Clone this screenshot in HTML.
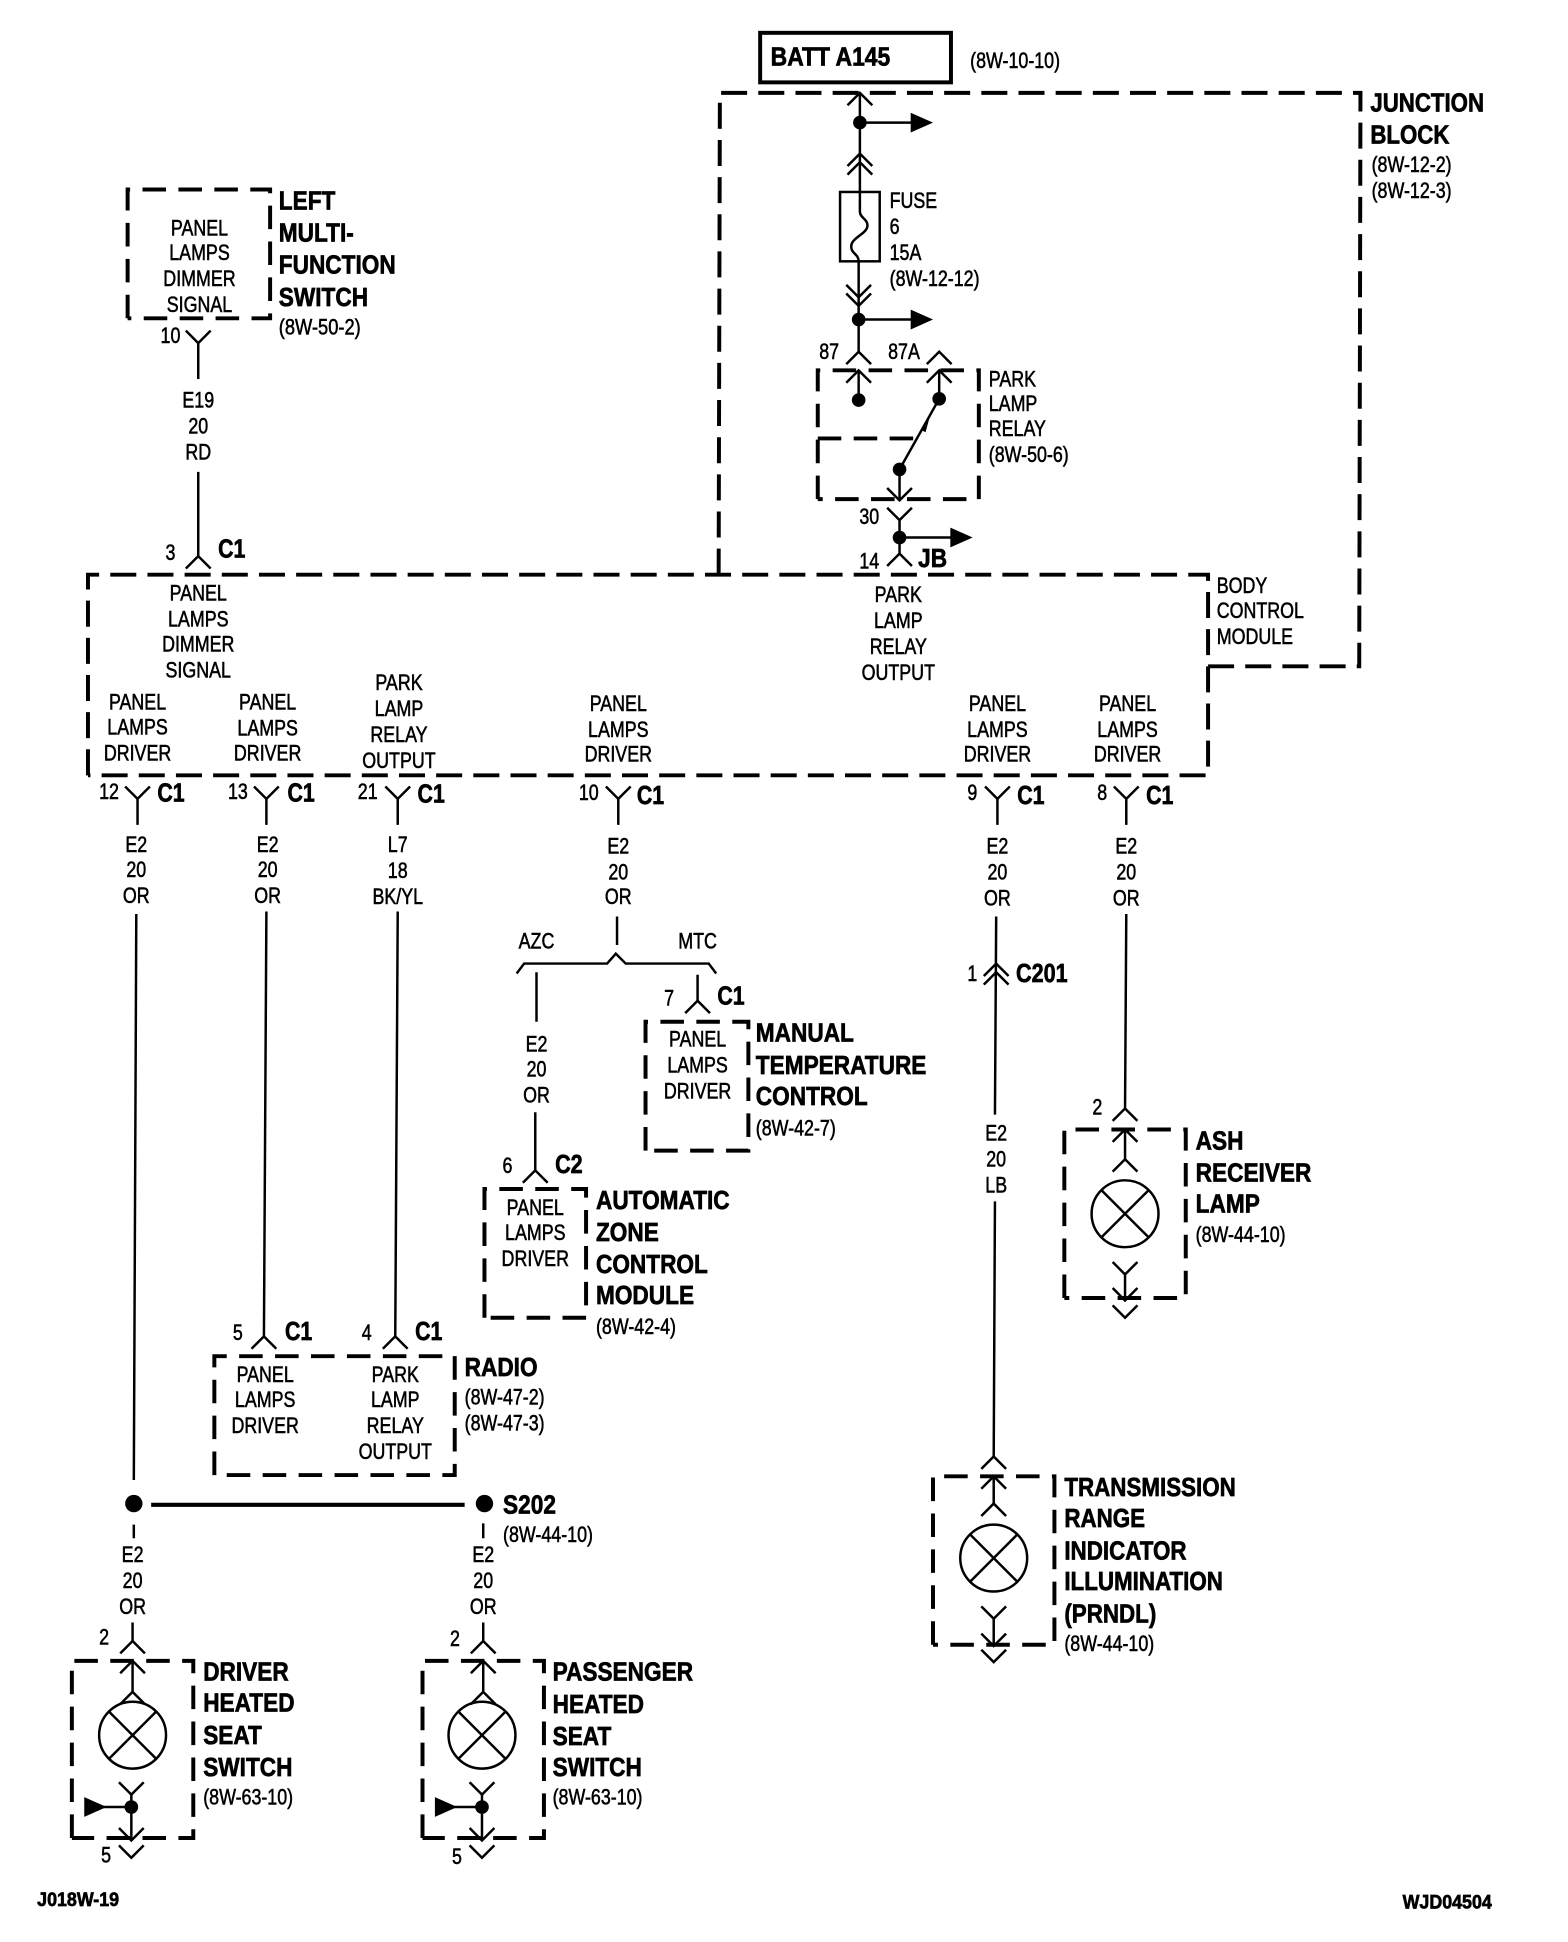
<!DOCTYPE html>
<html><head><meta charset="utf-8"><title>Panel Lamps Wiring Diagram</title>
<style>
html,body{margin:0;padding:0;background:#fff}
svg{display:block}
text{fill:#000;font-family:"Liberation Sans",sans-serif}
.r text{font-size:18px;stroke:#000;stroke-width:.45}
.b text{font-size:21px;font-weight:bold;stroke:#000;stroke-width:.55}
.m text{text-anchor:middle}
.w{fill:none;stroke:#000;stroke-width:2}
.d{fill:none;stroke:#000;stroke-width:3.2;stroke-dasharray:21 9}
.s{fill:none;stroke:#000;stroke-width:3.2;stroke-dasharray:19 10}
</style></head><body>
<svg xmlns="http://www.w3.org/2000/svg" width="1568" height="1942" viewBox="0 0 1265.5 1568" preserveAspectRatio="none">
<defs>
<path id="up" d="M-10 10L0 0L10 10" fill="none" stroke="#000" stroke-width="2"/>
<path id="dn" d="M-10 -10L0 0L10 -10" fill="none" stroke="#000" stroke-width="2"/>
<g id="lamp"><circle r="27" fill="none" stroke="#000" stroke-width="2"/><path d="M-19 -19L19 19M19 -19L-19 19" stroke="#000" stroke-width="2"/></g>
</defs>

<!-- boxes -->
<rect x="613.5" y="26.5" width="154" height="40" fill="none" stroke="#000" stroke-width="3.2"/>
<path class="d" d="M580 464L581 75L1098 75L1097 538L975 538"/>
<path class="d" d="M71 626L71 464L975 464L975 626L71 626"/>
<path class="s" d="M103 257L103 153L218 153L218 257L103 257"/>
<path class="s" d="M660 403L660 299L790 299L790 403L660 403"/>
<path class="s" d="M660 354L737 354"/>
<path class="s" d="M521 929L521 825L604 825L604 929L521 929"/>
<path class="s" d="M391 1064L391 960L473 960L473 1064L391 1064"/>
<path class="s" d="M173 1191L173 1095L367 1095L367 1191L173 1191"/>
<path class="s" d="M859 1048L859 912L957 912L957 1048L859 1048"/>
<path class="s" d="M753 1328L753 1192L851 1192L851 1328L753 1328"/>
<path class="s" d="M58 1484L58 1341L156 1341L156 1484L58 1484"/>
<path class="s" d="M341 1484L341 1341L439 1341L439 1484L341 1484"/>

<!-- junction block internals -->
<path class="w" d="M694 75V155M694 99H737M693 211V258M693 258H737M693 258V284M693 299V323M758 299V322M758 322L726 379M726 379V404M726 420V447M726 434H769"/>
<path d="M694 155V171C694 176 701 177 700 183C699 189 687 192 687 199C687 205 693 205 693 211" fill="none" stroke="#000" stroke-width="2"/>
<rect x="678" y="155" width="32" height="56" fill="none" stroke="#000" stroke-width="2"/>
<use href="#up" x="694" y="75"/><use href="#up" x="694" y="124"/><use href="#up" x="694" y="131"/>
<use href="#dn" x="693" y="240"/><use href="#dn" x="693" y="247"/>
<use href="#up" x="693" y="284"/><use href="#up" x="693" y="299"/>
<use href="#up" x="758" y="284"/><use href="#up" x="758" y="299"/>
<use href="#dn" x="726" y="404"/><use href="#dn" x="726" y="420"/><use href="#up" x="726" y="447"/>
<circle cx="694" cy="99" r="5.5"/><circle cx="693" cy="258" r="5.5"/><circle cx="693" cy="323" r="5.5"/><circle cx="758" cy="322" r="5.5"/><circle cx="726" cy="379" r="5.5"/><circle cx="726" cy="434" r="5.5"/>
<path d="M735 91L753 99L735 107ZM735 250L753 258L735 266ZM767 426L785 434L767 442ZM750 338L743 347L747 349Z"/>

<!-- left wires -->
<path class="w" d="M160 276V306M160 381V449"/>
<use href="#dn" x="160" y="277"/><use href="#up" x="160" y="449"/>

<!-- BCM output connectors -->
<path class="w" d="M111 645V666M215 645V666M321 645V666M499 645V666M805 645V666M909 645V666"/>
<use href="#dn" x="111" y="645"/><use href="#dn" x="215" y="645"/><use href="#dn" x="321" y="645"/><use href="#dn" x="499" y="645"/><use href="#dn" x="805" y="645"/><use href="#dn" x="909" y="645"/>

<path class="w" d="M110 738L108 1195M215 736L213 1080M321 736L319 1080M498 740V763M433 785V825M432 898V945M563 787V808M804 740L803 900M803 970L802 1176M909 738L908 895"/>
<path class="w" d="M417 786L423 778H490L497 770L505 778H572L578 786"/>
<use href="#up" x="432" y="945"/><use href="#up" x="563" y="808"/>
<use href="#up" x="213" y="1079"/><use href="#up" x="319" y="1079"/>
<use href="#up" x="804" y="778"/><use href="#up" x="804" y="785"/>

<!-- ash receiver lamp -->
<path class="w" d="M908 912V936M908 1028V1050"/>
<use href="#up" x="908" y="895"/><use href="#up" x="908" y="912"/><use href="#up" x="908" y="936"/>
<use href="#lamp" x="908" y="980"/>
<use href="#dn" x="908" y="1029"/><use href="#dn" x="908" y="1050"/><use href="#dn" x="908" y="1064"/>

<!-- transmission lamp -->
<path class="w" d="M802 1192V1214M802 1306V1328"/>
<use href="#up" x="802" y="1176"/><use href="#up" x="802" y="1192"/><use href="#up" x="802" y="1214"/>
<use href="#lamp" x="802" y="1258"/>
<use href="#dn" x="802" y="1307"/><use href="#dn" x="802" y="1329"/><use href="#dn" x="802" y="1342"/>

<!-- splice -->
<circle cx="108" cy="1214" r="7"/><circle cx="391" cy="1214" r="7"/>
<path d="M122 1215H375" stroke="#000" stroke-width="3.4"/>
<path class="w" d="M108 1231V1242M390 1230V1242M107 1310V1325M107 1341V1366M390 1310V1325M390 1341V1366"/>

<!-- driver switch -->
<use href="#up" x="107" y="1325"/><use href="#up" x="107" y="1341"/><use href="#up" x="107" y="1366"/>
<use href="#lamp" x="107" y="1401"/>
<path class="w" d="M106 1448V1486M106 1459H80"/>
<use href="#dn" x="106" y="1449"/><use href="#dn" x="106" y="1486"/><use href="#dn" x="106" y="1500"/>
<circle cx="106" cy="1459" r="5.5"/><path d="M68 1451L86 1459L68 1467Z"/>

<!-- passenger switch -->
<use href="#up" x="390" y="1325"/><use href="#up" x="390" y="1341"/><use href="#up" x="390" y="1366"/>
<use href="#lamp" x="389" y="1401"/>
<path class="w" d="M389 1448V1486M389 1459H363"/>
<use href="#dn" x="389" y="1449"/><use href="#dn" x="389" y="1486"/><use href="#dn" x="389" y="1500"/>
<circle cx="389" cy="1459" r="5.5"/><path d="M351 1451L369 1459L351 1467Z"/>

<!-- bold labels -->
<g class="b" transform="translate(622,0) scale(.88,1)"><text y="53">BATT A145</text></g>
<g class="b" transform="translate(1106,0) scale(.855,1)"><text y="90">JUNCTION</text><text y="116">BLOCK</text></g>
<g class="b" transform="translate(225,0) scale(.87,1)"><text y="169">LEFT</text><text y="195">MULTI-</text><text y="221">FUNCTION</text><text y="247">SWITCH</text></g>
<g class="b" transform="translate(610,0) scale(.87,1)"><text y="841">MANUAL</text><text y="867">TEMPERATURE</text><text y="892">CONTROL</text></g>
<g class="b" transform="translate(481,0) scale(.87,1)"><text y="976">AUTOMATIC</text><text y="1002">ZONE</text><text y="1028">CONTROL</text><text y="1053">MODULE</text></g>
<g class="b" transform="translate(375,0) scale(.87,1)"><text y="1111">RADIO</text></g>
<g class="b" transform="translate(406,0) scale(.87,1)"><text y="1222">S202</text></g>
<g class="b" transform="translate(965,0) scale(.87,1)"><text y="928">ASH</text><text y="954">RECEIVER</text><text y="979">LAMP</text></g>
<g class="b" transform="translate(859,0) scale(.86,1)"><text y="1208">TRANSMISSION</text><text y="1233">RANGE</text><text y="1259">INDICATOR</text><text y="1284">ILLUMINATION</text><text y="1310">(PRNDL)</text></g>
<g class="b" transform="translate(164,0) scale(.87,1)"><text y="1357">DRIVER</text><text y="1382">HEATED</text><text y="1408">SEAT</text><text y="1434">SWITCH</text></g>
<g class="b" transform="translate(446,0) scale(.87,1)"><text y="1357">PASSENGER</text><text y="1383">HEATED</text><text y="1409">SEAT</text><text y="1434">SWITCH</text></g>
<g class="b" transform="translate(741,0) scale(.87,1)"><text y="458">JB</text></g>
<g class="b" transform="translate(820,0) scale(.83,1)"><text y="793">C201</text></g>
<g class="b" transform="translate(448,0) scale(.83,1)"><text y="947">C2</text></g>
<g class="b">
<text transform="translate(176,450) scale(.82,1)">C1</text>
<text transform="translate(127,647) scale(.82,1)">C1</text>
<text transform="translate(232,647) scale(.82,1)">C1</text>
<text transform="translate(337,648) scale(.82,1)">C1</text>
<text transform="translate(514,649) scale(.82,1)">C1</text>
<text transform="translate(821,649) scale(.82,1)">C1</text>
<text transform="translate(925,649) scale(.82,1)">C1</text>
<text transform="translate(579,811) scale(.82,1)">C1</text>
<text transform="translate(230,1082) scale(.82,1)">C1</text>
<text transform="translate(335,1082) scale(.82,1)">C1</text>
</g>

<!-- plain refs, left aligned -->
<g class="r" transform="translate(783,0) scale(.8,1)"><text y="55">(8W-10-10)</text></g>
<g class="r" transform="translate(1107,0) scale(.8,1)"><text y="139">(8W-12-2)</text><text y="160">(8W-12-3)</text></g>
<g class="r" transform="translate(718,0) scale(.8,1)"><text y="168">FUSE</text><text y="189">6</text><text y="210">15A</text><text y="231">(8W-12-12)</text></g>
<g class="r" transform="translate(798,0) scale(.8,1)"><text y="312">PARK</text><text y="332">LAMP</text><text y="352">RELAY</text><text y="373">(8W-50-6)</text></g>
<g class="r" transform="translate(982,0) scale(.8,1)"><text y="479">BODY</text><text y="499">CONTROL</text><text y="520">MODULE</text></g>
<g class="r" transform="translate(225,0) scale(.82,1)"><text y="270">(8W-50-2)</text></g>
<g class="r" transform="translate(610,0) scale(.8,1)"><text y="917">(8W-42-7)</text></g>
<g class="r" transform="translate(481,0) scale(.8,1)"><text y="1077">(8W-42-4)</text></g>
<g class="r" transform="translate(375,0) scale(.8,1)"><text y="1134">(8W-47-2)</text><text y="1155">(8W-47-3)</text></g>
<g class="r" transform="translate(406,0) scale(.8,1)"><text y="1245">(8W-44-10)</text></g>
<g class="r" transform="translate(965,0) scale(.8,1)"><text y="1003">(8W-44-10)</text></g>
<g class="r" transform="translate(859,0) scale(.8,1)"><text y="1333">(8W-44-10)</text></g>
<g class="r" transform="translate(164,0) scale(.8,1)"><text y="1457">(8W-63-10)</text></g>
<g class="r" transform="translate(446,0) scale(.8,1)"><text y="1457">(8W-63-10)</text></g>

<!-- centered text blocks -->
<g class="r m" transform="translate(161,0) scale(.8,1)"><text y="190">PANEL</text><text y="210">LAMPS</text><text y="231">DIMMER</text><text y="252">SIGNAL</text></g>
<g class="r m" transform="translate(160,0) scale(.8,1)"><text y="329">E19</text><text y="350">20</text><text y="371">RD</text></g>
<g class="r m" transform="translate(160,0) scale(.8,1)"><text y="485">PANEL</text><text y="506">LAMPS</text><text y="526">DIMMER</text><text y="547">SIGNAL</text></g>
<g class="r m" transform="translate(725,0) scale(.8,1)"><text y="486">PARK</text><text y="507">LAMP</text><text y="528">RELAY</text><text y="549">OUTPUT</text></g>
<g class="r m" transform="translate(111,0) scale(.8,1)"><text y="573">PANEL</text><text y="593">LAMPS</text><text y="614">DRIVER</text></g>
<g class="r m" transform="translate(216,0) scale(.8,1)"><text y="573">PANEL</text><text y="594">LAMPS</text><text y="614">DRIVER</text></g>
<g class="r m" transform="translate(322,0) scale(.8,1)"><text y="557">PARK</text><text y="578">LAMP</text><text y="599">RELAY</text><text y="620">OUTPUT</text></g>
<g class="r m" transform="translate(499,0) scale(.8,1)"><text y="574">PANEL</text><text y="595">LAMPS</text><text y="615">DRIVER</text></g>
<g class="r m" transform="translate(805,0) scale(.8,1)"><text y="574">PANEL</text><text y="595">LAMPS</text><text y="615">DRIVER</text></g>
<g class="r m" transform="translate(910,0) scale(.8,1)"><text y="574">PANEL</text><text y="595">LAMPS</text><text y="615">DRIVER</text></g>
<g class="r m" transform="translate(110,0) scale(.8,1)"><text y="688">E2</text><text y="708">20</text><text y="729">OR</text></g>
<g class="r m" transform="translate(216,0) scale(.8,1)"><text y="688">E2</text><text y="708">20</text><text y="729">OR</text></g>
<g class="r m" transform="translate(321,0) scale(.8,1)"><text y="688">L7</text><text y="709">18</text><text y="730">BK/YL</text></g>
<g class="r m" transform="translate(499,0) scale(.8,1)"><text y="689">E2</text><text y="710">20</text><text y="730">OR</text></g>
<g class="r m" transform="translate(805,0) scale(.8,1)"><text y="689">E2</text><text y="710">20</text><text y="731">OR</text></g>
<g class="r m" transform="translate(909,0) scale(.8,1)"><text y="689">E2</text><text y="710">20</text><text y="731">OR</text></g>
<g class="r m" transform="translate(433,0) scale(.8,1)"><text y="766">AZC</text><text y="849">E2</text><text y="869">20</text><text y="890">OR</text></g>
<g class="r m" transform="translate(563,0) scale(.8,1)"><text y="766">MTC</text><text y="845">PANEL</text><text y="866">LAMPS</text><text y="887">DRIVER</text></g>
<g class="r m" transform="translate(432,0) scale(.8,1)"><text y="981">PANEL</text><text y="1001">LAMPS</text><text y="1022">DRIVER</text></g>
<g class="r m" transform="translate(804,0) scale(.8,1)"><text y="921">E2</text><text y="942">20</text><text y="963">LB</text></g>
<g class="r m" transform="translate(214,0) scale(.8,1)"><text y="1116">PANEL</text><text y="1136">LAMPS</text><text y="1157">DRIVER</text></g>
<g class="r m" transform="translate(319,0) scale(.8,1)"><text y="1116">PARK</text><text y="1136">LAMP</text><text y="1157">RELAY</text><text y="1178">OUTPUT</text></g>
<g class="r m" transform="translate(107,0) scale(.8,1)"><text y="1261">E2</text><text y="1282">20</text><text y="1303">OR</text></g>
<g class="r m" transform="translate(390,0) scale(.8,1)"><text y="1261">E2</text><text y="1282">20</text><text y="1303">OR</text></g>

<!-- pin numbers -->
<g class="r m">
<text x="669" y="290" transform="translate(134,0) scale(.8,1)">87</text>
<text x="912" y="290" transform="scale(.8,1)">87A</text>
<text x="877" y="423" transform="scale(.8,1)">30</text>
<text x="877" y="459" transform="scale(.8,1)">14</text>
<text x="172" y="277" transform="scale(.8,1)">10</text>
<text x="172" y="452" transform="scale(.8,1)">3</text>
<text x="110" y="645" transform="scale(.8,1)">12</text>
<text x="240" y="645" transform="scale(.8,1)">13</text>
<text x="371" y="645" transform="scale(.8,1)">21</text>
<text x="594" y="646" transform="scale(.8,1)">10</text>
<text x="981" y="646" transform="scale(.8,1)">9</text>
<text x="1112" y="646" transform="scale(.8,1)">8</text>
<text x="675" y="812" transform="scale(.8,1)">7</text>
<text x="512" y="947" transform="scale(.8,1)">6</text>
<text x="981" y="792" transform="scale(.8,1)">1</text>
<text x="240" y="1082" transform="scale(.8,1)">5</text>
<text x="370" y="1082" transform="scale(.8,1)">4</text>
<text x="1107" y="900" transform="scale(.8,1)">2</text>
<text x="105" y="1328" transform="scale(.8,1)">2</text>
<text x="459" y="1329" transform="scale(.8,1)">2</text>
<text x="107" y="1504" transform="scale(.8,1)">5</text>
<text x="461" y="1505" transform="scale(.8,1)">5</text>
</g>

<!-- footer -->
<g class="b" transform="translate(30,0) scale(.9,1)"><text y="1539" style="font-size:16px">J018W-19</text></g>
<g class="b" transform="translate(1132,0) scale(.9,1)"><text y="1541" style="font-size:16px">WJD04504</text></g>
</svg>
</body></html>
